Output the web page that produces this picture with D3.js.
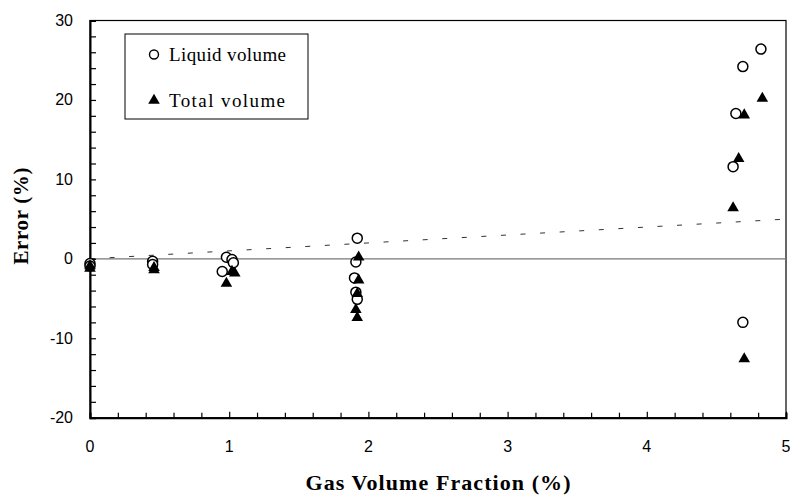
<!DOCTYPE html>
<html>
<head>
<meta charset="utf-8">
<script src="https://cdn.jsdelivr.net/npm/d3@7"></script>
<style>
  html, body { margin: 0; padding: 0; background: #fff; }
  svg { display: block; }
</style>
</head>
<body>
<svg id="chart" width="790" height="500"></svg>
<script>
// Measured error vs. gas volume fraction
const liquidGVF = [0.00, 0.00, 0.45, 0.45, 0.98, 1.02, 1.03, 0.95, 1.92, 1.91, 1.90, 1.91, 1.92, 4.62, 4.64, 4.69, 4.82, 4.69];
const liquidErr = [-0.6, -0.9, -0.3, -0.7, 0.2, -0.1, -0.5, -1.6, 2.6, -0.4, -2.4, -4.2, -5.1, 11.6, 18.3, 24.2, 26.4, -8.0];

const totalGVF = [0.00, 0.00, 0.46, 0.46, 0.98, 1.02, 1.04, 1.93, 1.93, 1.92, 1.91, 1.92, 4.62, 4.66, 4.70, 4.83, 4.70];
const totalErr = [-0.8, -1.1, -1.0, -1.3, -3.0, -1.5, -1.7, 0.3, -2.6, -4.3, -6.3, -7.3, 6.5, 12.7, 18.2, 20.3, -12.5];

// Dashed reference line (error equal to GVF)
const refGVF = [0, 5];
const refErr = [0, 5];

const xTicks = [0, 1, 2, 3, 4, 5];
const yTicks = [-20, -10, 0, 10, 20, 30];
const seriesNames = ["Liquid volume", "Total volume"];

const svg = d3.select("#chart");
const plot = { left: 90, right: 786, top: 20.5, bottom: 417.7 };

const x = d3.scaleLinear().domain([0, 5]).range([plot.left, plot.right]);
const y = d3.scaleLinear().domain([-20, 30]).range([plot.bottom, plot.top]);

// frame
svg.append("rect")
  .attr("x", plot.left).attr("y", plot.top)
  .attr("width", plot.right - plot.left).attr("height", plot.bottom - plot.top)
  .attr("fill", "none").attr("stroke", "#000").attr("stroke-width", 1.2);

// zero line
svg.append("line")
  .attr("x1", x(0)).attr("x2", x(5))
  .attr("y1", y(0)).attr("y2", y(0))
  .attr("stroke", "#777").attr("stroke-width", 1.3);

// dashed reference line
svg.append("path")
  .datum(refGVF.map((g, i) => [g, refErr[i]]))
  .attr("d", d3.line().x(d => x(d[0])).y(d => y(d[1])))
  .attr("fill", "none").attr("stroke", "#333").attr("stroke-width", 1)
  .attr("stroke-dasharray", "5,14.6");

// axes with inward ticks
const xMinor = d3.range(0, 5.001, 0.2).map(v => +v.toFixed(1));
const yMinor = d3.range(-20, 30.001, 2);

const xAxis = svg.append("g").attr("transform", `translate(0,${plot.bottom})`)
  .call(d3.axisBottom(x).tickValues(xMinor).tickSize(-5).tickFormat(""));
const yAxis = svg.append("g").attr("transform", `translate(${plot.left},0)`)
  .call(d3.axisLeft(y).tickValues(yMinor).tickSize(-6).tickFormat(""));

[xAxis, yAxis].forEach(a => {
  a.select(".domain").attr("stroke", "#000").attr("stroke-width", 2);
  a.selectAll(".tick line").attr("stroke", "#000").attr("stroke-width", 1.2);
});
xAxis.selectAll(".tick line")
  .filter(d => xTicks.includes(d))
  .attr("y2", -6);

// tick labels
svg.append("g").selectAll("text").data(xTicks).join("text")
  .attr("x", d => x(d)).attr("y", plot.bottom + 29)
  .attr("text-anchor", "middle").attr("dominant-baseline", "central")
  .attr("font-family", "Arial, 'Liberation Sans', sans-serif").attr("font-size", 16)
  .text(d => d);

svg.append("g").selectAll("text").data(yTicks).join("text")
  .attr("x", plot.left - 17).attr("y", d => y(d))
  .attr("text-anchor", "end").attr("dominant-baseline", "central")
  .attr("font-family", "Arial, 'Liberation Sans', sans-serif").attr("font-size", 16)
  .text(d => d);

// axis titles
svg.append("text")
  .attr("x", (plot.left + plot.right) / 2).attr("y", 490)
  .attr("text-anchor", "middle")
  .attr("font-family", "'Times New Roman', 'Liberation Serif', serif")
  .attr("font-weight", "bold").attr("font-size", 22)
  .attr("textLength", 265).attr("lengthAdjust", "spacing")
  .text("Gas Volume Fraction (%)");

svg.append("text")
  .attr("transform", `translate(28,${(plot.top + plot.bottom) / 2 - 3}) rotate(-90)`)
  .attr("text-anchor", "middle")
  .attr("font-family", "'Times New Roman', 'Liberation Serif', serif")
  .attr("font-weight", "bold").attr("font-size", 21)
  .attr("textLength", 97).attr("lengthAdjust", "spacing")
  .text("Error (%)");

// markers
const tri = d3.symbol().type(d3.symbolTriangle).size(58);

svg.append("g").selectAll("circle")
  .data(liquidGVF.map((g, i) => [g, liquidErr[i]]))
  .join("circle")
  .attr("cx", d => x(d[0])).attr("cy", d => y(d[1])).attr("r", 5)
  .attr("fill", "#fff").attr("stroke", "#000").attr("stroke-width", 1.5);

svg.append("g").selectAll("path")
  .data(totalGVF.map((g, i) => [g, totalErr[i]]))
  .join("path")
  .attr("d", tri)
  .attr("transform", d => `translate(${x(d[0])},${y(d[1]) + 0.8})`)
  .attr("fill", "#000");

// legend
const lg = svg.append("g");
lg.append("rect")
  .attr("x", 125).attr("y", 34).attr("width", 183).attr("height", 85)
  .attr("fill", "#fff").attr("stroke", "#000").attr("stroke-width", 1);
lg.append("circle").attr("cx", 154).attr("cy", 54.5).attr("r", 4.5)
  .attr("fill", "#fff").attr("stroke", "#000").attr("stroke-width", 1.4);
lg.append("path").attr("d", tri).attr("transform", "translate(154,100.5)").attr("fill", "#000");
lg.selectAll("text").data(seriesNames).join("text")
  .attr("x", 169).attr("y", (d, i) => 54.5 + i * 45.5)
  .attr("dominant-baseline", "central")
  .attr("font-family", "'Times New Roman', 'Liberation Serif', serif")
  .attr("font-size", 19)
  .attr("textLength", (d, i) => i === 0 ? 117 : 116).attr("lengthAdjust", "spacing")
  .text(d => d);
</script>
</body>
</html>
